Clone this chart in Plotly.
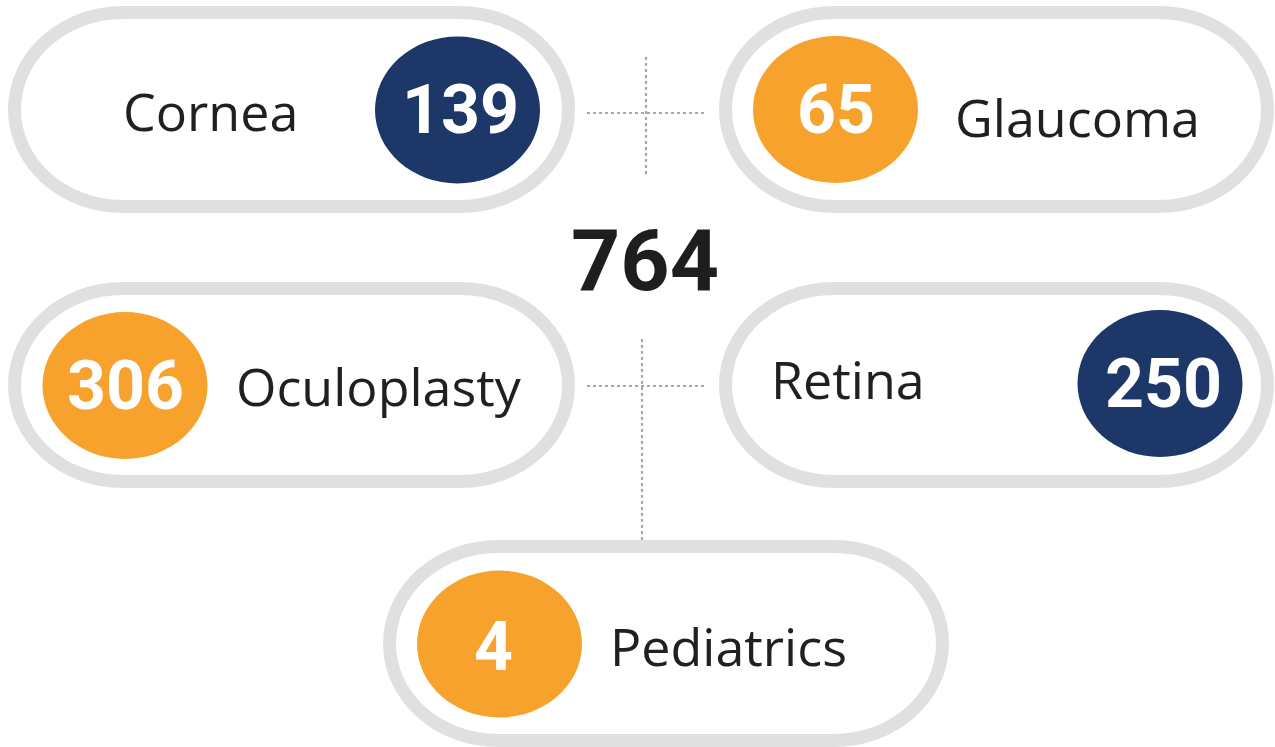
import plotly.graph_objects as go

# ---- data ----
categories = ["Cornea", "Glaucoma", "Oculoplasty", "Retina", "Pediatrics"]
values = [139, 65, 306, 250, 4]
badge_colors = ["#1d3769", "#f8a22e", "#f8a22e", "#1d3769", "#f8a22e"]
total = sum(values)

# ---- layout geometry (pixels, origin top-left of the page) ----
W, H = 1275, 747
pill_boxes = [  # outer x0, x1, y0, y1
    (8, 575, 6, 213),
    (719, 1274, 6, 213),
    (8, 575, 282, 488),
    (719, 1274, 282, 488),
    (383, 949, 540, 747),
]
badge_centers = [(457.5, 110), (835.5, 109.5), (125, 385.5), (1160, 383.5), (499.5, 644)]
badge_rx, badge_ry = 82.5, 73.5
label_centers = [(210, 110.5), (1077.5, 116), (379, 385), (848, 378.5), (728, 645)]
number_offsets = [(3, 0), (0, 0), (0, 0), (3, 0), (-6, 3)]

STROKE = 13
GRAY = "#e0e0e0"

def pill_path(x0, x1, y0, y1):
    h = STROKE / 2
    x0, x1, y0, y1 = x0 + h, x1 - h, y0 + h, y1 - h
    ry = (y1 - y0) / 2
    rx = ry * 1.12
    k = 0.5523
    cy = (y0 + y1) / 2
    p = []
    p.append(f"M {x0+rx},{y0}")
    p.append(f"L {x1-rx},{y0}")
    p.append(f"C {x1-rx+k*rx},{y0} {x1},{cy-k*ry} {x1},{cy}")
    p.append(f"C {x1},{cy+k*ry} {x1-rx+k*rx},{y1} {x1-rx},{y1}")
    p.append(f"L {x0+rx},{y1}")
    p.append(f"C {x0+rx-k*rx},{y1} {x0},{cy+k*ry} {x0},{cy}")
    p.append(f"C {x0},{cy-k*ry} {x0+rx-k*rx},{y0} {x0+rx},{y0}")
    p.append("Z")
    return " ".join(p)

fig = go.Figure()
fig.add_trace(go.Scatter(x=[0, W], y=[0, H], mode="markers",
                         marker=dict(opacity=0), hoverinfo="skip", showlegend=False))

shapes = []
# dotted connectors
DOT = dict(color="#a9a9a9", width=2.2, dash="dot")
shapes.append(dict(type="line", x0=646, x1=646, y0=57, y1=177, line=DOT))
shapes.append(dict(type="line", x0=587, x1=705, y0=113, y1=113, line=DOT))
shapes.append(dict(type="line", x0=642, x1=642, y0=339, y1=541, line=DOT))
shapes.append(dict(type="line", x0=587, x1=705, y0=386, y1=386, line=DOT))

for box in pill_boxes:
    shapes.append(dict(type="path", path=pill_path(*box), fillcolor="white",
                       line=dict(color=GRAY, width=STROKE)))
for (cx, cy), col in zip(badge_centers, badge_colors):
    shapes.append(dict(type="circle", x0=cx - badge_rx, x1=cx + badge_rx,
                       y0=cy - badge_ry, y1=cy + badge_ry, fillcolor=col,
                       line=dict(width=0)))
for s in shapes:
    s.update(xref="x", yref="y", layer="below")

annotations = []
for cat, (lx, ly) in zip(categories, label_centers):
    annotations.append(dict(x=lx, y=ly, text=cat, showarrow=False,
                            xanchor="center", yanchor="middle",
                            font=dict(family="Open Sans", size=52, color="#231f20")))
for v, (cx, cy), (dx, dy) in zip(values, badge_centers, number_offsets):
    annotations.append(dict(x=cx + dx, y=cy + dy, text=f"<b>{v}</b>", showarrow=False,
                            xanchor="center", yanchor="middle",
                            font=dict(family="Roboto", size=68, color="white")))
annotations.append(dict(x=645, y=260, text=f"<b>{total}</b>", showarrow=False,
                        xanchor="center", yanchor="middle",
                        font=dict(family="Roboto", size=86, color="#1e1e1e")))

fig.update_layout(
    width=W, height=H, autosize=False,
    margin=dict(l=0, r=0, t=0, b=0),
    paper_bgcolor="white", plot_bgcolor="white",
    xaxis=dict(range=[0, W], visible=False, fixedrange=True),
    yaxis=dict(range=[H, 0], visible=False, fixedrange=True),
    shapes=shapes, annotations=annotations, showlegend=False,
)
fig.write_html("out.html", config={"displayModeBar": False},
               post_script="document.body.style.margin='0';document.body.style.overflow='hidden';")
